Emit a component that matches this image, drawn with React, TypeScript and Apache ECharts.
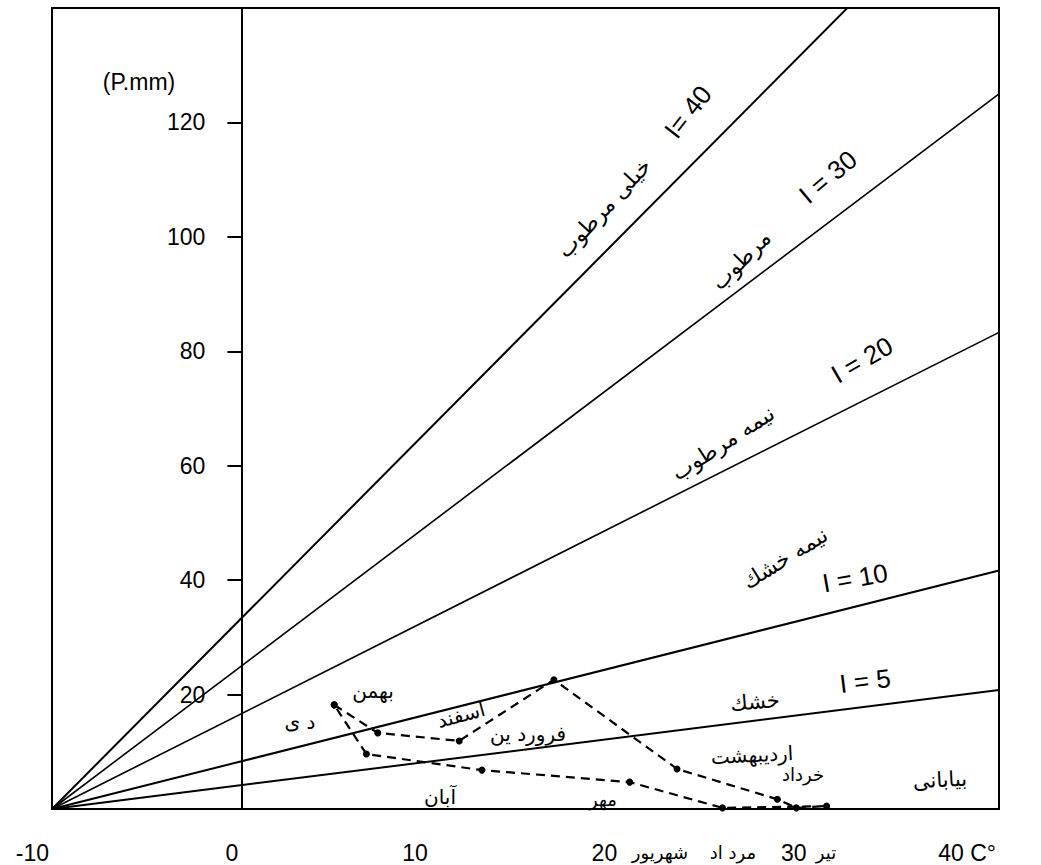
import React, { useEffect, useRef } from 'react';
import * as echarts from 'echarts';

// Monthly climate points (temperature °C, precipitation mm), in calendar order starting with Dey
const months = ['دی', 'بهمن', 'اسفند', 'فروردین', 'اردیبهشت', 'خرداد', 'تیر', 'مرداد', 'شهریور', 'مهر', 'آبان', 'آذر'];
const temperature = [4.9, 7.2, 11.5, 16.5, 23.0, 28.3, 29.3, 30.9, 25.4, 20.5, 12.7, 6.6];
const precipitation = [18.2, 13.3, 11.9, 22.6, 7.0, 1.7, 0.2, 0.5, 0.2, 4.7, 6.8, 9.6];

// De Martonne index lines, from (-10, 0) to their P value at T = 40
const indexValues = [40, 30, 20, 10, 5];
const indexLineEndP = [166.7, 125, 83.3, 41.7, 20.8];
const indexLineWidth = [2, 1.6, 1.6, 2, 2];

const xTickLabels = ['-10', '0', '10', '20', '30', '40 C°'];

const LATIN = "'Liberation Sans Narrow', 'Liberation Sans', 'DejaVu Sans Condensed', sans-serif";
const ARABIC = "'DejaVu Sans', 'Noto Sans', sans-serif";

// annotations: text, x, y (pixel), rotation (deg), size, font
const annotations: [string, number, number, number, number, string][] = [
  ['(P.mm)', 139, 82, 0, 23, LATIN],
  ['I= 40', 688, 112, 52, 26, LATIN],
  ['خیلی مرطوب', 604, 208, 47, 22, ARABIC],
  ['I = 30', 828, 177, 40, 26, LATIN],
  ['مرطوب', 741, 260, 45, 22, ARABIC],
  ['I = 20', 862, 360, 30, 26, LATIN],
  ['نیمه مرطوب', 723, 443, 33, 22, ARABIC],
  ['نیمه خشك', 785, 558, 32, 22, ARABIC],
  ['I = 10', 855, 578, 10, 26, LATIN],
  ['I = 5', 865, 681, 7, 26, LATIN],
  ['خشك', 755, 702, 5, 21, ARABIC],
  ['بیابانی', 940, 780, 3, 21, ARABIC],
  ['د ی', 300, 722, 0, 20, ARABIC],
  ['بهمن', 373, 691, 0, 20, ARABIC],
  ['اسفند', 461, 715, 15, 20, ARABIC],
  ['فرورد ین', 528, 734, 0, 20, ARABIC],
  ['اردیبهشت', 752, 755, 3, 20, ARABIC],
  ['خرداد', 803, 774, 0, 18, ARABIC],
  ['مهر', 603, 799, 0, 18, ARABIC],
  ['آبان', 440, 797, 0, 20, ARABIC],
  ['شهریور', 660, 852, 0, 18, ARABIC],
  ['مرد اد', 733, 852, 0, 18, ARABIC],
  ['تیر', 826, 852, 0, 18, ARABIC],
];

export default function App() {
  const ref = useRef<HTMLDivElement>(null);
  useEffect(() => {
    if (!ref.current) return;
    const chart = echarts.init(ref.current, undefined, { renderer: 'svg' });

    const loop = months.map((_, i) => [temperature[i], precipitation[i]]);
    loop.push([temperature[0], precipitation[0]]);

    const indexSeries = indexValues.map((iv, k) => ({
      type: 'line',
      name: 'I = ' + iv,
      data: [[-10, 0], [40, indexLineEndP[k]]],
      symbol: 'none',
      clip: true,
      silent: true,
      lineStyle: { color: '#000', width: indexLineWidth[k] },
    }));

    const gridLeft = 52;
    const gridWidth = 947;
    // y axis sits at T = 0
    const yAxisOffset = -gridWidth * (0 - -10) / (40 - -10);

    chart.setOption({
      animation: false,
      backgroundColor: '#ffffff',
      grid: {
        left: gridLeft, top: 8, width: gridWidth, height: 801,
        containLabel: false, outerBoundsMode: 'none',
        show: true, borderColor: '#000', borderWidth: 2, backgroundColor: 'transparent',
      },
      xAxis: {
        type: 'value', min: -10, max: 40, interval: 10,
        axisLine: { show: true, onZero: false, lineStyle: { color: '#000', width: 2 } },
        axisTick: { show: false },
        splitLine: { show: false },
        axisLabel: {
          color: '#000', fontSize: 23, fontFamily: LATIN, margin: 32,
          align: 'right', padding: [0, 3, 0, 0],
          formatter: (v: number) => xTickLabels[Math.round((v + 10) / 10)] ?? String(v),
        },
      },
      yAxis: {
        type: 'value', min: 0, max: 140, interval: 20,
        position: 'left', offset: yAxisOffset,
        axisLine: { show: true, onZero: false, lineStyle: { color: '#000', width: 2 } },
        axisTick: { show: true, length: 14, lineStyle: { color: '#000', width: 2 } },
        splitLine: { show: false },
        axisLabel: {
          color: '#000', fontSize: 23, fontFamily: LATIN, margin: 36,
          showMinLabel: false, showMaxLabel: false,
        },
      },
      series: [
        ...indexSeries,
        {
          type: 'line',
          name: 'months',
          data: loop,
          symbol: 'circle',
          symbolSize: 7,
          itemStyle: { color: '#000' },
          lineStyle: { color: '#000', width: 2.2, type: [9, 6] },
          silent: true,
        },
      ],
      graphic: annotations.map(([text, x, y, rot, size, font]) => ({
        type: 'text',
        x, y,
        rotation: (rot * Math.PI) / 180,
        style: {
          text, fill: '#000', fontSize: size, fontFamily: font,
          align: 'center', verticalAlign: 'middle',
        },
        silent: true,
      })),
    });
    return () => chart.dispose();
  }, []);

  return (
    <div
      ref={ref}
      style={{ position: 'fixed', left: 0, top: 0, width: 1041, height: 865, background: '#fff' }}
    />
  );
}
